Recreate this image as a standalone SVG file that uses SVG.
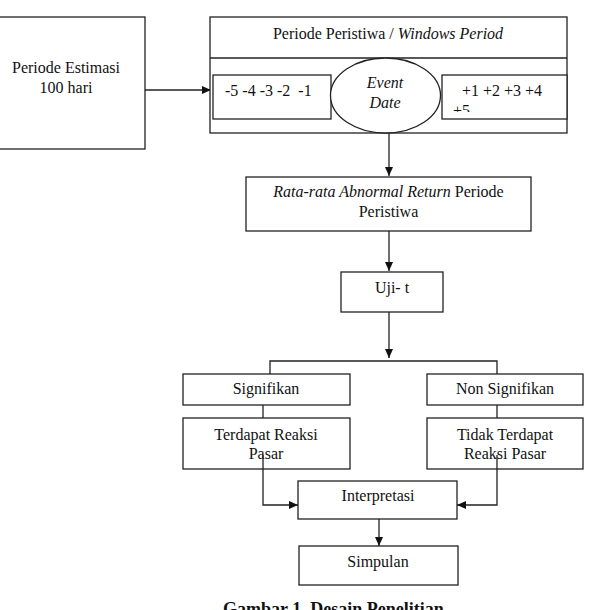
<svg xmlns="http://www.w3.org/2000/svg" width="590" height="610" viewBox="0 0 590 610">
<style>
.b{fill:#fff;stroke:#222;stroke-width:1.3}
.l{fill:none;stroke:#222;stroke-width:1.3}
text{font-family:"Liberation Serif","Times New Roman",serif;font-size:16px;fill:#111}
.c{text-anchor:middle}
.i{font-style:italic}
</style>
<defs>
<marker id="ah" markerWidth="10" markerHeight="10" refX="9" refY="5" orient="auto" markerUnits="userSpaceOnUse">
<path d="M0,1 L9,5 L0,9 Z" fill="#111"/>
</marker>
<clipPath id="cp"><rect x="442" y="75" width="125" height="37"/></clipPath>
</defs>
<rect width="590" height="610" fill="#fff"/>
<g id="connectors">
<path class="l" d="M145,90 H211" marker-end="url(#ah)"/>
<path class="l" d="M389,133 V176" marker-end="url(#ah)"/>
<path class="l" d="M389,231 V271" marker-end="url(#ah)"/>
<path class="l" d="M389,312 V358" marker-end="url(#ah)"/>
<path class="l" d="M270,374 V361 H497 V374"/>
<path class="l" d="M263,405 V418"/>
<path class="l" d="M497,405 V418"/>
<path class="l" d="M263,455 V505 H298" marker-end="url(#ah)"/>
<path class="l" d="M497,455 V505 H457" marker-end="url(#ah)"/>
<path class="l" d="M379,519 V546" marker-end="url(#ah)"/>
</g>
<g id="estimasi">
<rect class="b" x="-2" y="17" width="147" height="132"/>
<text class="c" x="66" y="73">Periode Estimasi</text>
<text class="c" x="66" y="93">100 hari</text>
</g>
<g id="windows">
<rect class="b" x="210" y="17" width="357" height="116"/>
<path class="l" d="M210,58 H567"/>
<text class="c" x="388" y="39">Periode Peristiwa / <tspan class="i">Windows Period</tspan></text>
</g>
<g id="pre">
<rect class="b" x="213" y="75" width="118" height="44"/>
<text x="225" y="96" xml:space="preserve">-5 -4 -3 -2  -1</text>
</g>
<g id="event">
<ellipse class="b" cx="385.5" cy="95.5" rx="55" ry="37.5"/>
<text class="c i" x="385" y="88">Event</text>
<text class="c i" x="385" y="108">Date</text>
</g>
<g id="post">
<rect class="b" x="442" y="75" width="125" height="44"/>
<g clip-path="url(#cp)">
<text x="462" y="96">+1 +2 +3 +4</text>
<text x="453" y="116">+5</text>
</g>
</g>
<g id="rata">
<rect class="b" x="246" y="177" width="285" height="54"/>
<text class="c" x="388.5" y="197"><tspan class="i">Rata-rata Abnormal Return</tspan> Periode</text>
<text class="c" x="388.5" y="217">Peristiwa</text>
</g>
<g id="ujit">
<rect class="b" x="341" y="272" width="102" height="40"/>
<text class="c" x="392" y="293">Uji- t</text>
</g>
<g id="signifikan">
<rect class="b" x="183" y="374" width="167" height="31"/>
<text class="c" x="266" y="394">Signifikan</text>
</g>
<g id="nonsignifikan">
<rect class="b" x="427" y="374" width="156" height="31"/>
<text class="c" x="505" y="394">Non Signifikan</text>
</g>
<g id="terdapat">
<rect class="b" x="183" y="418" width="167" height="51"/>
<text class="c" x="266" y="440">Terdapat Reaksi</text>
<text class="c" x="266" y="459">Pasar</text>
</g>
<g id="tidak">
<rect class="b" x="427" y="418" width="156" height="51"/>
<text class="c" x="505" y="440">Tidak Terdapat</text>
<text class="c" x="505" y="459">Reaksi Pasar</text>
</g>
<path class="l" d="M263,455 V469 M497,455 V469"/>
<g id="interpretasi">
<rect class="b" x="298" y="481" width="159" height="38"/>
<text class="c" x="378" y="501">Interpretasi</text>
</g>
<g id="simpulan">
<rect class="b" x="299" y="546" width="159" height="39"/>
<text class="c" x="378" y="567">Simpulan</text>
</g>
<text x="223" y="615" style="font-weight:bold;font-size:18px">Gambar 1. Desain Penelitian</text>
</svg>
